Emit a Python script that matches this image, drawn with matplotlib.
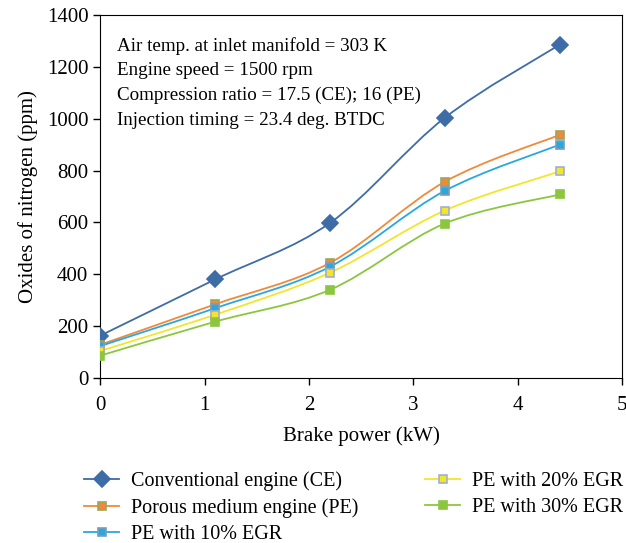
import numpy as np
import matplotlib.pyplot as plt
from matplotlib.path import Path
from matplotlib.patches import PathPatch
from matplotlib.lines import Line2D

plt.rcParams["font.family"] = ["Liberation Serif", "DejaVu Serif"]
plt.rcParams["font.size"] = 15

power = [0, 1.1, 2.2, 3.3, 4.4]
ce = [163, 380, 598, 1004, 1286]
pe = [128, 284, 444, 757, 938]
pe10 = [123, 269, 429, 722, 900]
pe20 = [104, 244, 406, 646, 797]
pe30 = [86, 217, 340, 596, 708]

labels = ["Conventional engine (CE)", "Porous medium engine (PE)", "PE with 10% EGR",
          "PE with 20% EGR", "PE with 30% EGR"]
series = [ce, pe, pe10, pe20, pe30]
line_colors = ["#3d6ca6", "#f08a3a", "#27a8e0", "#f3e52a", "#8cc63f"]
face_colors = ["#3d6ca6", "#f08a3a", "#27a8e0", "#f3e52a", "#8cc63f"]
edge_colors = ["#3d6ca6", "#9aa85a", "#7f9cb5", "#9fb0d0", "#8cc63f"]
markers = ["D", "s", "s", "s", "s"]
msizes = [8, 6, 6, 6, 6]


def smooth_path(ax, xs, ys):
    # excel-like smoothed line: catmull-rom as cubic bezier in display space
    pts = ax.transData.transform(np.column_stack([xs, ys]))
    verts = [pts[0]]
    codes = [Path.MOVETO]
    n = len(pts)
    for i in range(n - 1):
        p0 = pts[i - 1] if i > 0 else pts[i]
        p1 = pts[i]
        p2 = pts[i + 1]
        p3 = pts[i + 2] if i + 2 < n else pts[i + 1]
        c1 = p1 + (p2 - p0) / 6.0
        c2 = p2 - (p3 - p1) / 6.0
        verts += [c1, c2, p2]
        codes += [Path.CURVE4] * 3
    return Path(verts, codes)


fig = plt.figure(figsize=(6.26, 5.43), dpi=100)
ax = fig.add_axes([0.160, 0.304, 0.834, 0.668])
ax.set_xlim(0, 5)
ax.set_ylim(0, 1400)
ax.set_xticks(range(6))
ax.set_yticks(range(0, 1401, 200))
ax.tick_params(direction="out", length=5, width=1, labelsize=15)
ax.tick_params(axis="x", pad=8)
ax.set_xlabel("Brake power (kW)", fontsize=15, labelpad=8)
ax.set_ylabel("Oxides of nitrogen (ppm)", fontsize=15, labelpad=6)

handles = []
for y, lab, lc, fc, ec, m, ms in zip(series, labels, line_colors, face_colors,
                                     edge_colors, markers, msizes):
    path = smooth_path(ax, power, y)
    ax.add_patch(PathPatch(path, transform=None, fill=False, edgecolor=lc,
                           linewidth=1.3, zorder=2))
    ax.plot(power, y, linestyle="none", marker=m, markersize=ms,
            markerfacecolor=fc, markeredgecolor=ec, markeredgewidth=1.2, zorder=3)
    handles.append(Line2D([], [], color=lc, linewidth=1.3, marker=m,
                          markersize=ms, markerfacecolor=fc, markeredgecolor=ec,
                          markeredgewidth=1.2, label=lab))

notes = ["Air temp. at inlet manifold = 303 K",
         "Engine speed = 1500 rpm",
         "Compression ratio = 17.5 (CE); 16 (PE)",
         "Injection timing = 23.4 deg. BTDC"]
for i, t in enumerate(notes):
    ax.text(0.032, 0.915 - i * 0.068, t, transform=ax.transAxes, fontsize=13.7,
            va="center", ha="left")

fig.legend(handles=handles, loc="upper left", bbox_to_anchor=(84 / 626, 0.132),
           ncol=2, frameon=False, fontsize=14.5, handlelength=1.75, borderpad=0,
           borderaxespad=0, columnspacing=3.3, labelspacing=0.36, handletextpad=0.6)

plt.savefig("out.png", dpi=100)
